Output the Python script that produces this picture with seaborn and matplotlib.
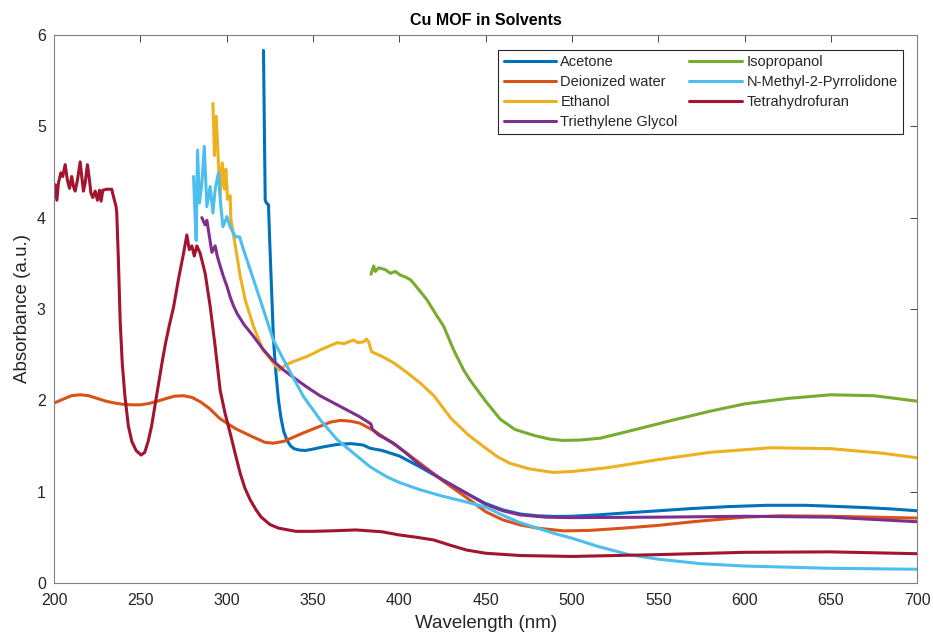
"""Cu MOF absorbance spectra in several solvents (MATLAB-style look)."""

import matplotlib

matplotlib.use("Agg")
import matplotlib.pyplot as plt
import pandas as pd
import seaborn as sns

# ---- data ----
acetone_nm = [321.3, 321.8, 322.3, 323.0, 324.2, 324.8, 326.0, 327.1, 328.5, 330.0,
              331.5, 333.0, 335.0, 337.0, 339.0, 342.0, 345.5, 350, 356, 362, 366,
              372, 379, 383, 390, 400, 412, 425, 440, 450, 460, 470, 480, 490, 500,
              515, 530, 550, 570, 590, 613, 635, 650, 670, 685, 700]
acetone_abs = [5.83, 5.0, 4.19, 4.16, 4.14, 3.8, 3.2, 2.66, 2.3, 2.0,
               1.8, 1.66, 1.56, 1.5, 1.47, 1.455, 1.45, 1.465, 1.49, 1.51, 1.52,
               1.525, 1.51, 1.475, 1.45, 1.39, 1.27, 1.13, 0.97, 0.87, 0.80, 0.755,
               0.735, 0.728, 0.73, 0.745, 0.765, 0.79, 0.815, 0.835, 0.85, 0.85,
               0.84, 0.825, 0.81, 0.79]

water_nm = [200, 205, 210, 215, 220, 225, 230, 235, 240, 245, 250, 255, 260, 265,
            270, 275, 280, 285, 290, 296, 305, 315, 322, 327, 333, 338, 344, 352,
            360, 366, 372, 377, 385, 393, 400, 412, 425, 440, 450, 460, 470, 480,
            495, 510, 530, 550, 570, 600, 620, 650, 675, 700]
water_abs = [1.97, 2.01, 2.05, 2.06, 2.05, 2.02, 1.99, 1.97, 1.955, 1.95, 1.95,
             1.965, 1.99, 2.02, 2.045, 2.05, 2.03, 1.98, 1.91, 1.80, 1.69, 1.60,
             1.54, 1.53, 1.55, 1.59, 1.64, 1.70, 1.76, 1.78, 1.77, 1.75, 1.67,
             1.57, 1.48, 1.31, 1.12, 0.92, 0.78, 0.69, 0.635, 0.60, 0.57, 0.575,
             0.60, 0.63, 0.67, 0.72, 0.735, 0.73, 0.72, 0.71]

ethanol_nm = [292.0, 292.9, 293.9, 295.2, 296.2, 297.4, 298.6, 299.5, 300.5, 302.0,
              302.4, 305.0, 307.8, 310.7, 315.5, 321, 327, 330.6, 333, 336.8, 341,
              346.5, 350, 354, 359, 364, 368, 373.5, 376, 379.3, 381, 382.2, 384,
              390, 396.7, 404, 412, 420, 430, 440, 449, 457, 464, 475, 489, 500,
              520, 550, 580, 615, 650, 680, 700]
ethanol_abs = [5.25, 4.68, 5.11, 4.60, 4.24, 4.60, 4.31, 4.53, 4.20, 4.24,
               3.98, 3.69, 3.36, 3.10, 2.81, 2.55, 2.41, 2.33, 2.37, 2.41, 2.44,
               2.48, 2.51, 2.55, 2.59, 2.63, 2.62, 2.66, 2.63, 2.64, 2.67, 2.64,
               2.53, 2.48, 2.41, 2.31, 2.19, 2.05, 1.80, 1.62, 1.49, 1.38, 1.31,
               1.25, 1.21, 1.22, 1.26, 1.35, 1.43, 1.48, 1.47, 1.42, 1.37]

glycol_nm = [285.6, 286.5, 287.5, 288.5, 289.5, 291.4, 293.3, 294.5, 296.2, 298,
             300.1, 302, 304, 306, 310, 315.5, 321, 327, 333, 338.7, 346, 354,
             362, 370, 377, 382, 383.5, 384.5, 388, 396.7, 404, 412, 425, 440,
             450, 460, 470, 485, 500, 550, 600, 650, 700]
glycol_abs = [4.00, 3.96, 3.92, 3.97, 3.85, 3.62, 3.69, 3.58, 3.47, 3.36,
              3.25, 3.13, 3.03, 2.95, 2.83, 2.70, 2.56, 2.43, 2.33, 2.25, 2.15,
              2.05, 1.97, 1.89, 1.82, 1.76, 1.74, 1.68, 1.62, 1.53, 1.42, 1.29,
              1.13, 0.97, 0.86, 0.79, 0.745, 0.72, 0.715, 0.72, 0.73, 0.72, 0.67]

isopropanol_nm = [383.6, 385.1, 386.1, 388, 391.9, 394.8, 397.7, 400.6, 403.5,
                  406.4, 408.3, 412.2, 416, 421.9, 425.7, 431.5, 437.3, 441, 450,
                  458.6, 467, 478, 487, 495, 505, 516.5, 535.8, 559, 580, 600,
                  625, 650, 675, 700]
isopropanol_abs = [3.38, 3.47, 3.41, 3.45, 3.43, 3.39, 3.41, 3.37, 3.35,
                   3.32, 3.28, 3.19, 3.10, 2.92, 2.81, 2.55, 2.33, 2.22, 1.99,
                   1.79, 1.68, 1.615, 1.575, 1.56, 1.565, 1.585, 1.675, 1.785,
                   1.88, 1.96, 2.02, 2.06, 2.05, 1.99]

nmp_nm = [280.8, 281.5, 282.3, 283.1, 284.2, 285.5, 287.0, 288.5, 290.4, 292.0,
          293.3, 295.2, 296.6, 297.8, 300.1, 302, 305, 307.4, 309.7, 313.6, 319.4,
          327, 335, 344.5, 354.2, 363.9, 373.5, 383.2, 392.9, 400, 412, 425, 438,
          450, 460, 470, 480, 490, 500, 515, 533, 550, 575, 600, 650, 700]
nmp_abs = [4.45, 4.1, 3.75, 4.74, 4.16, 4.35, 4.78, 4.12, 4.34, 4.05,
           4.31, 4.49, 4.12, 3.90, 4.01, 3.90, 3.79, 3.79, 3.65, 3.43, 3.10,
           2.66, 2.37, 2.04, 1.785, 1.57, 1.42, 1.27, 1.16, 1.10, 1.02, 0.95, 0.89,
           0.83, 0.74, 0.66, 0.60, 0.54, 0.49, 0.40, 0.31, 0.26, 0.21, 0.185,
           0.16, 0.15]

thf_nm = [200, 200.6, 201.6, 202.5, 203.9, 205, 206.4, 207.7, 208.9, 210.2,
          211.2, 212.2, 213.5, 215.1, 216, 217, 218, 219.3, 220.5, 221.3, 222.4,
          223.8, 225.1, 226.3, 227.2, 228.2, 230.5, 233.4, 234.4, 235.9, 236.3,
          237.3, 238.3, 239.5, 241, 243, 245, 247.5, 250.4, 252.5, 254.5, 256.5,
          258.5, 260.5, 262.6, 264.5, 266.5, 269.2, 272, 275, 276.9, 278.3, 279.8,
          281.2, 282.7, 284.6, 287.5, 290.4, 293.3, 296.2, 299, 302, 305, 307.8,
          310.5, 313.6, 317, 320, 325, 330, 340, 350, 360, 375, 390, 400, 410,
          420, 430, 439, 450, 470, 500, 550, 600, 650, 700]
thf_abs = [4.23, 4.36, 4.19, 4.38, 4.49, 4.45, 4.58, 4.41, 4.32, 4.45,
           4.34, 4.29, 4.41, 4.61, 4.45, 4.29, 4.38, 4.58, 4.41, 4.27, 4.22,
           4.29, 4.19, 4.30, 4.18, 4.30, 4.31, 4.31, 4.23, 4.12, 4.05,
           3.5, 2.85, 2.4, 2.05, 1.72, 1.55, 1.45, 1.40, 1.43, 1.55, 1.72,
           1.95, 2.18, 2.42, 2.62, 2.80, 3.02, 3.32, 3.61, 3.81, 3.65, 3.69,
           3.58, 3.69, 3.61, 3.39, 3.03, 2.59, 2.11, 1.86, 1.64, 1.41, 1.20,
           1.04, 0.91, 0.80, 0.72, 0.64, 0.60, 0.565, 0.565, 0.57, 0.58, 0.56,
           0.525, 0.50, 0.47, 0.41, 0.36, 0.325, 0.30, 0.29, 0.31, 0.335, 0.34,
           0.32]

solvents = ["Acetone", "Deionized water", "Ethanol", "Triethylene Glycol",
            "Isopropanol", "N-Methyl-2-Pyrrolidone", "Tetrahydrofuran"]
colors = ["#0072BD", "#D95319", "#EDB120", "#7E2F8E",
          "#77AC30", "#4DBEEE", "#A2142F"]
series = [(acetone_nm, acetone_abs), (water_nm, water_abs),
          (ethanol_nm, ethanol_abs), (glycol_nm, glycol_abs),
          (isopropanol_nm, isopropanol_abs), (nmp_nm, nmp_abs),
          (thf_nm, thf_abs)]

frames = []
for name, (nm, ab) in zip(solvents, series):
    frames.append(pd.DataFrame({"Wavelength": nm, "Absorbance": ab,
                                "Solvent": name}))
df = pd.concat(frames, ignore_index=True)

sns.set_style("white")
plt.rcParams["font.family"] = ["Liberation Sans", "DejaVu Sans"]
axis_grey = "#262626"

fig = plt.figure(figsize=(9.33, 6.35), dpi=100)
ax = fig.add_axes([0.058, 0.082, 0.925, 0.863])

sns.lineplot(data=df, x="Wavelength", y="Absorbance", hue="Solvent",
             hue_order=solvents, palette=colors, sort=False, estimator=None,
             linewidth=2.2, ax=ax, legend=True)

ax.set_xlim(200, 700)
ax.set_ylim(0, 6)
ax.set_xticks(range(200, 701, 50))
ax.set_yticks(range(0, 7))
ax.tick_params(direction="in", top=True, right=True, length=5, width=0.6,
               colors=axis_grey, labelsize=11.5)
ax.tick_params(axis="x", pad=7)
ax.tick_params(axis="y", pad=6)
for spine in ax.spines.values():
    spine.set_color("#808080")
    spine.set_linewidth(0.8)

ax.set_xlabel("Wavelength (nm)", fontsize=13.5, color=axis_grey, labelpad=5)
ax.set_ylabel("Absorbance (a.u.)", fontsize=13.5, color=axis_grey, labelpad=4)
ax.set_title("Cu MOF in Solvents", fontsize=11.5, fontweight="bold",
             color="black", pad=7)

handles, labels = ax.get_legend_handles_labels()
leg = ax.legend(handles, labels, ncol=2, loc="upper right", fontsize=10.5,
                frameon=True, fancybox=False, framealpha=1, edgecolor=axis_grey,
                handlelength=3.6, handletextpad=0.3, columnspacing=0.8,
                labelspacing=0.42, borderaxespad=1.0, borderpad=0.35)
leg.get_frame().set_linewidth(0.8)
for line in leg.get_lines():
    line.set_linewidth(2.2)

fig.savefig("out.png", dpi=100)
